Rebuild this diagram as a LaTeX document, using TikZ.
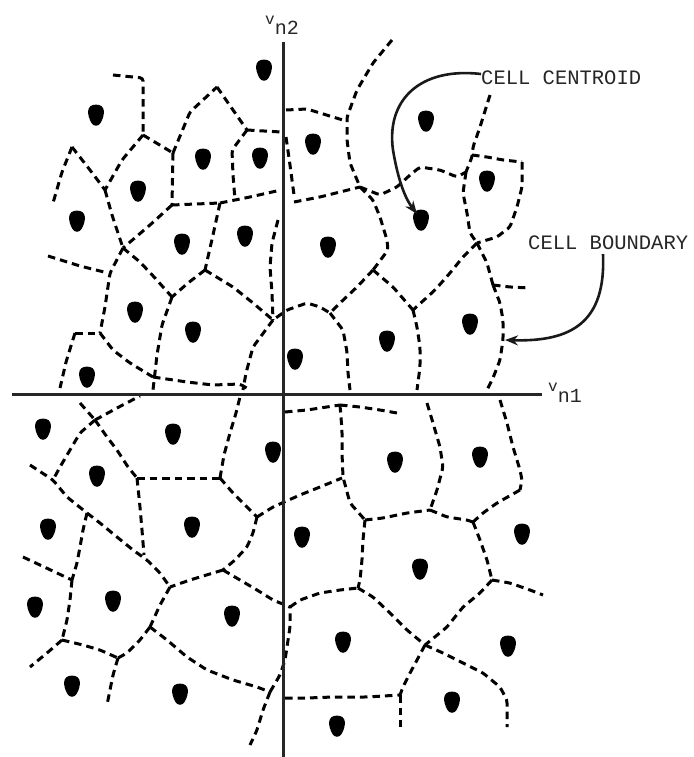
\documentclass[tikz,border=0pt]{standalone}
\usepackage{fontspec}
\newfontfamily\monofnt{Liberation Mono}
\usetikzlibrary{arrows.meta}
\begin{document}
\begin{tikzpicture}[x=1pt,y=-1pt,
  cb/.style={line width=3pt, dash pattern=on 7.5pt off 5pt, black, rounded corners=3pt},
  axisline/.style={line width=3pt, black!85},
  callout/.style={line width=2.6pt, black!90, -{Stealth[length=13pt,width=10pt]}},
  lbl/.style={font=\monofnt\fontsize{20.5}{22}\selectfont, text=black!85, inner sep=0pt, anchor=west},
  axlbl/.style={font=\monofnt\fontsize{20}{20}\selectfont, text=black!85, inner sep=0pt, anchor=base west},
  cdot/.pic={\fill[scale=1.2] (0,-9.5) .. controls (-8.5,-9.5) and (-7.5,-1) .. (-4,5.5) .. controls (-2.5,9) and (2.5,9) .. (4,5.5) .. controls (7.5,-1) and (8.5,-9.5) .. (0,-9.5);}]
\useasboundingbox (0,0) rectangle (693,757);

% ---------- cell boundaries, upper half ----------
\draw[cb] (113,75)--(143,78)--(143,135);
\draw[cb] (143,135)--(173,153);
\draw[cb] (143,135)--(122,160)--(105,190);
\draw[cb] (72,147)--(62,172)--(53,203);
\draw[cb] (72,147)--(90,170)--(105,190);
\draw[cb] (105,190)--(112,215)--(123,248);
\draw[cb] (172,205)--(150,225)--(123,248);
\draw[cb] (123,248)--(140,262)--(155,278)--(172,297);
\draw[cb] (205,270)--(188,283)--(172,297);
\draw[cb] (48,256)--(80,266)--(108,273);
\draw[cb] (123,248)--(110,273)--(105,307)--(100,333);
\draw[cb] (173,153)--(172,205);
\draw[cb] (173,153)--(190,112)--(217,87);
\draw[cb] (217,87)--(233,110)--(247,130);
\draw[cb] (247,130)--(281,132);
\draw[cb] (247,130)--(232,150)--(233,175)--(235,200);
\draw[cb] (172,205)--(220,203);
\draw[cb] (220,203)--(250,197)--(281,190);
\draw[cb] (220,203)--(213,235)--(205,270);
\draw[cb] (205,270)--(233,287)--(253,303)--(273,320)--(287,310)--(307,303)--(320,307)--(330,313);
\draw[cb] (278,220)--(272,243)--(270,267)--(272,293)--(273,320);
\draw[cb] (273,320)--(253,347)--(246,373)--(243,390);
\draw[cb] (172,297)--(162,325)--(157,355)--(153,390);
\draw[cb] (75,333)--(100,333);
\draw[cb] (75,333)--(66,362)--(60,388);
\draw[cb] (100,333)--(113,350)--(130,363)--(153,377);
\draw[cb] (153,377)--(187,382)--(213,385)--(240,384)--(250,390);
\draw[cb] (286,110)--(307,109)--(333,117)--(346,121);
\draw[cb] (286,137)--(290,165)--(294,195);
\draw[cb] (294,202)--(320,197)--(360,187);
\draw[cb] (392,40)--(373,63)--(357,90)--(347,117)--(347,140)--(350,163)--(360,187);
\draw[cb] (360,187)--(373,200)--(380,217)--(387,240)--(388,250)--(373,270);
\draw[cb] (360,187)--(380,195)--(397,187)--(410,175)--(420,167)--(440,170)--(457,177)--(466,172);
\draw[cb] (490,95)--(480,127)--(473,147)--(472,157)--(466,172);
\draw[cb] (472,155)--(487,157)--(503,160)--(522,162);
\draw[cb] (522,162)--(522,187)--(517,207)--(510,227)--(497,237)--(477,243);
\draw[cb] (466,172)--(463,193)--(467,213)--(470,233)--(477,243);
\draw[cb] (477,243)--(463,257)--(450,273)--(435,290)--(413,310);
\draw[cb] (373,270)--(393,287)--(413,310);
\draw[cb] (373,270)--(357,287)--(340,303)--(330,313);
\draw[cb] (330,313)--(343,330)--(347,352)--(348,373)--(350,390);
\draw[cb] (477,243)--(487,263)--(493,285);
\draw[cb] (493,285)--(510,287)--(530,288);
\draw[cb] (493,285)--(500,303)--(503,320)--(503,340)--(500,360)--(493,378)--(487,390);
\draw[cb] (413,310)--(417,327)--(420,347)--(420,367)--(417,390);

% ---------- cell boundaries, lower half ----------
\draw[cb] (80,403)--(95,420);
\draw[cb] (95,420)--(117,408)--(140,396);
\draw[cb] (95,420)--(80,433)--(70,450)--(60,467)--(53,480);
\draw[cb] (95,420)--(107,437)--(117,450)--(128,467)--(137,478);
\draw[cb] (30,465)--(53,480)--(67,497)--(87,513);
\draw[cb] (87,513)--(100,523)--(117,537)--(133,550)--(147,560)--(160,573)--(170,587);
\draw[cb] (137,478)--(220,478);
\draw[cb] (137,478)--(140,507)--(142,530)--(144,555);
\draw[cb] (220,478)--(224,455)--(230,433)--(236,413)--(240,397);
\draw[cb] (220,478)--(233,493)--(247,507)--(257,517);
\draw[cb] (257,517)--(273,507)--(300,495)--(320,487)--(342,478);
\draw[cb] (285,412)--(307,410)--(340,405);
\draw[cb] (340,405)--(360,407)--(380,410)--(397,413);
\draw[cb] (340,405)--(342,430)--(342,453)--(343,477)--(350,503)--(365,520);
\draw[cb] (257,517)--(253,533)--(247,547)--(235,560)--(223,570);
\draw[cb] (223,570)--(190,580)--(170,587);
\draw[cb] (170,587)--(160,605)--(150,627);
\draw[cb] (150,627)--(140,640)--(127,653)--(118,658);
\draw[cb] (118,658)--(113,675)--(110,690)--(107,705);
\draw[cb] (62,640)--(83,645)--(100,650)--(118,658);
\draw[cb] (62,640)--(47,653)--(30,667);
\draw[cb] (72,580)--(70,600)--(67,620)--(62,640);
\draw[cb] (23,557)--(40,565)--(57,573)--(72,580);
\draw[cb] (87,513)--(83,530)--(80,547)--(77,563)--(72,580);
\draw[cb] (150,627)--(167,640)--(187,657)--(207,670)--(233,680)--(257,687)--(270,692);
\draw[cb] (270,692)--(263,710)--(257,730)--(250,745);
\draw[cb] (270,692)--(280,675)--(285,660)--(287,647)--(290,627)--(290,607);
\draw[cb] (223,570)--(240,580)--(257,590)--(273,600)--(290,607);
\draw[cb] (290,607)--(300,600)--(320,593)--(340,590)--(358,588);
\draw[cb] (358,588)--(373,597)--(390,613)--(407,630)--(425,645);
\draw[cb] (285,698)--(307,698)--(333,697)--(367,697)--(400,695);
\draw[cb] (400,695)--(400,713)--(400,727);
\draw[cb] (425,645)--(417,660)--(410,673)--(403,687)--(400,695);
\draw[cb] (425,645)--(443,653)--(463,663)--(483,673)--(500,687)--(507,700)--(507,727);
\draw[cb] (492,580)--(480,593)--(463,607)--(447,627)--(425,645);
\draw[cb] (492,580)--(510,583)--(530,590)--(543,595);
\draw[cb] (473,522)--(480,540)--(487,560)--(492,580);
\draw[cb] (365,520)--(363,540)--(362,560)--(360,580)--(358,588);
\draw[cb] (365,520)--(383,518)--(407,513)--(430,510);
\draw[cb] (430,510)--(447,517)--(467,520)--(473,522);
\draw[cb] (520,490)--(497,503)--(483,513)--(473,522);
\draw[cb] (427,403)--(433,423)--(440,447)--(443,467)--(437,490)--(430,510);
\draw[cb] (500,400)--(507,423)--(513,447)--(520,470)--(522,480)--(520,490);

% ---------- axes ----------
\draw[axisline] (12,394) -- (542,394);
\draw[axisline] (283,42) -- (283,757);
\node[axlbl] (vn1) at (548,402) {\raisebox{11pt}{\fontsize{16}{16}\selectfont v}n1};
\node[axlbl] (vn2) at (265,35) {\raisebox{10pt}{\fontsize{16}{16}\selectfont v}n2};

% ---------- centroids ----------
\foreach \x/\y in {264/71,96/116,426/122,203/160,260/159,313/145,487/182,138/192,77/222,
  182/245,245/237,328/248,421/221,135/313,193/333,470/325,387/342,295/360,87/378,
  43/430,173/435,273/453,97/477,395/463,480/458,48/530,192/528,302/538,522/535,
  420/570,35/608,113/602,232/617,343/643,508/647,72/687,180/695,452/703,337/727}
  \pic at (\x,\y) {cdot};

% ---------- labels and callouts ----------
\node[lbl] (cc) at (481,78) {CELL CENTROID};
\node[lbl] (cbd) at (528,243) {CELL BOUNDARY};
\coordinate (cctip) at (417,214);
\coordinate (cbtip) at (505,340);
\draw[callout] ([yshift=4pt]cc.west) .. controls (420,67) and (386,100) .. (393,150) .. controls (398,180) and (405,198) .. (cctip);
\draw[callout] ([xshift=75pt,yshift=-4pt]cbd.south west) .. controls (606,322) and (572,342) .. (cbtip);
\end{tikzpicture}
\end{document}
